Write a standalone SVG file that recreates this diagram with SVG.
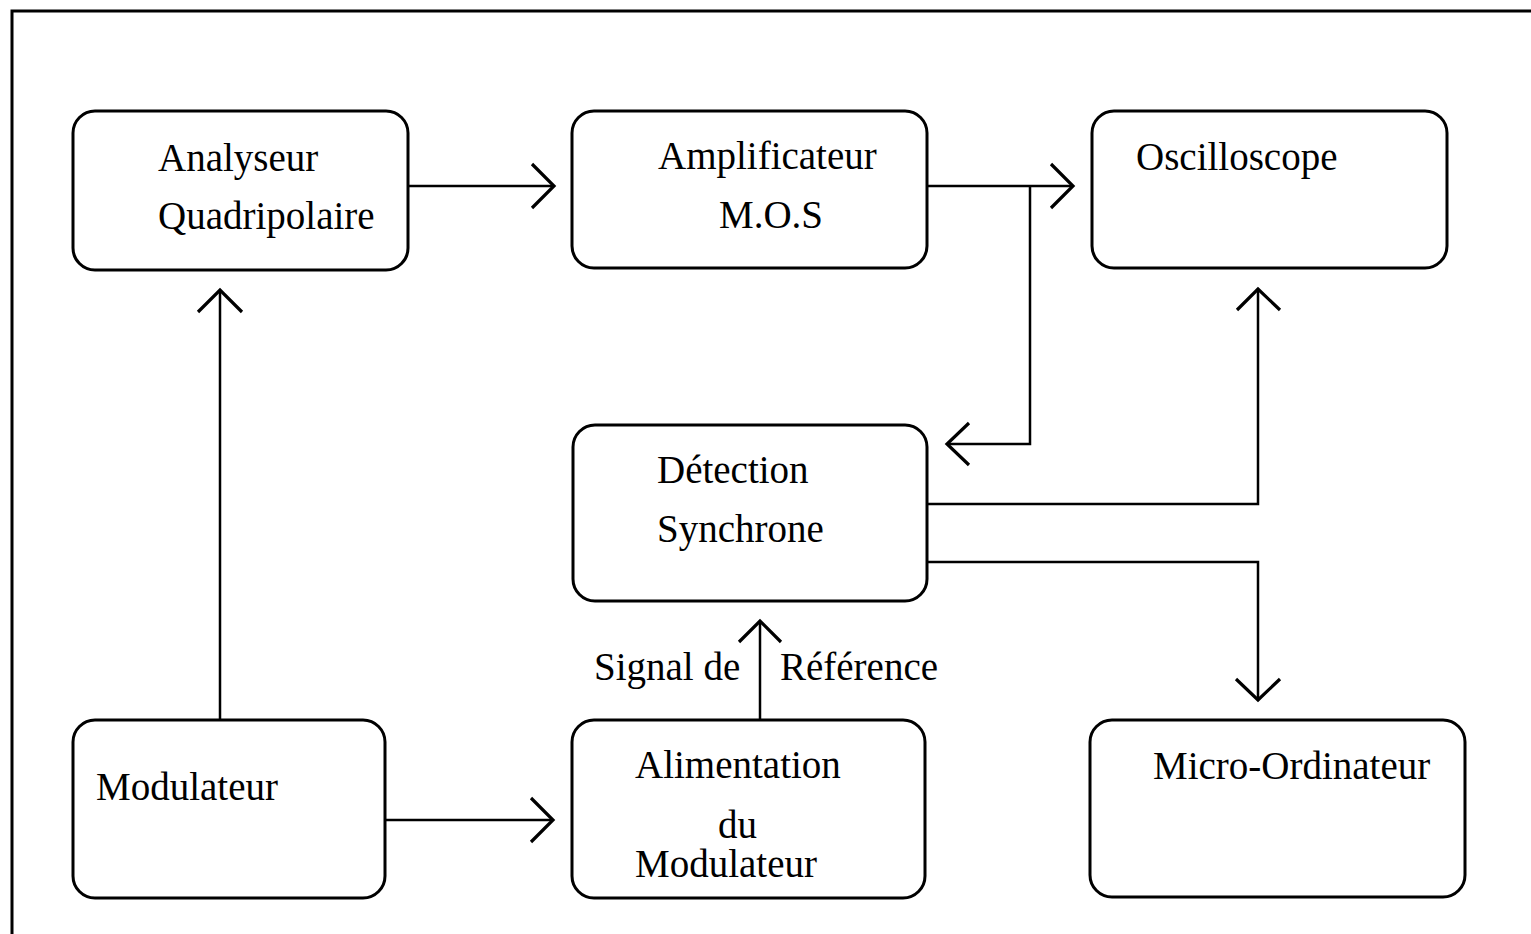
<svg xmlns="http://www.w3.org/2000/svg" width="1531" height="934" viewBox="0 0 1531 934">
<style>
.box{fill:#fff;stroke:#000;stroke-width:3}
.ln{fill:none;stroke:#000;stroke-width:2.5}
.hd{fill:none;stroke:#000;stroke-width:3.2;stroke-linecap:butt;stroke-linejoin:miter}
text{font-family:"Liberation Serif","Times New Roman",serif;font-size:39px;fill:#000}
</style>
<rect width="1531" height="934" fill="#fff"/>
<path d="M12,934 V11 H1531" fill="none" stroke="#000" stroke-width="3"/>
<g id="analyseur">
<rect class="box" x="73" y="111" width="335" height="159" rx="22"/>
<text x="158" y="171">Analyseur</text>
<text x="158" y="229">Quadripolaire</text>
</g>
<g id="amplificateur">
<rect class="box" x="572" y="111" width="355" height="157" rx="22"/>
<text x="658" y="169">Amplificateur</text>
<text x="719" y="228">M.O.S</text>
</g>
<g id="oscilloscope">
<rect class="box" x="1092" y="111" width="355" height="157" rx="22"/>
<text x="1136" y="170">Oscilloscope</text>
</g>
<g id="detection">
<rect class="box" x="573" y="425" width="354" height="176" rx="22"/>
<text x="657" y="483">Détection</text>
<text x="657" y="542">Synchrone</text>
</g>
<g id="modulateur">
<rect class="box" x="73" y="720" width="312" height="178" rx="22"/>
<text x="96" y="800">Modulateur</text>
</g>
<g id="alimentation">
<rect class="box" x="572" y="720" width="353" height="178" rx="22"/>
<text x="635" y="778">Alimentation</text>
<text x="718" y="838">du</text>
<text x="635" y="877">Modulateur</text>
</g>
<g id="micro">
<rect class="box" x="1090" y="720" width="375" height="177" rx="22"/>
<text x="1153" y="779">Micro-Ordinateur</text>
</g>
<g id="connectors">
<path class="ln" d="M408,186 H554"/>
<path class="hd" d="M532,164 L554,186 L532,208"/>
<path class="ln" d="M927,186 H1073"/>
<path class="hd" d="M1051,164 L1073,186 L1051,208"/>
<path class="ln" d="M1030,186 V444 H947"/>
<path class="hd" d="M969,423 L947,444 L969,465"/>
<path class="ln" d="M927,504 H1258 V289"/>
<path class="hd" d="M1237,310 L1258,289 L1280,310"/>
<path class="ln" d="M927,562 H1258 V700"/>
<path class="hd" d="M1236,679 L1258,700 L1280,679"/>
<path class="ln" d="M220,720 V290"/>
<path class="hd" d="M198,312 L220,290 L242,312"/>
<path class="ln" d="M385,820 H553"/>
<path class="hd" d="M531,798 L553,820 L531,842"/>
<path class="ln" d="M760,720 V621"/>
<path class="hd" d="M739,642 L760,621 L781,642"/>
<text x="594" y="680">Signal de</text>
<text x="780" y="680">Référence</text>
</g>
</svg>
